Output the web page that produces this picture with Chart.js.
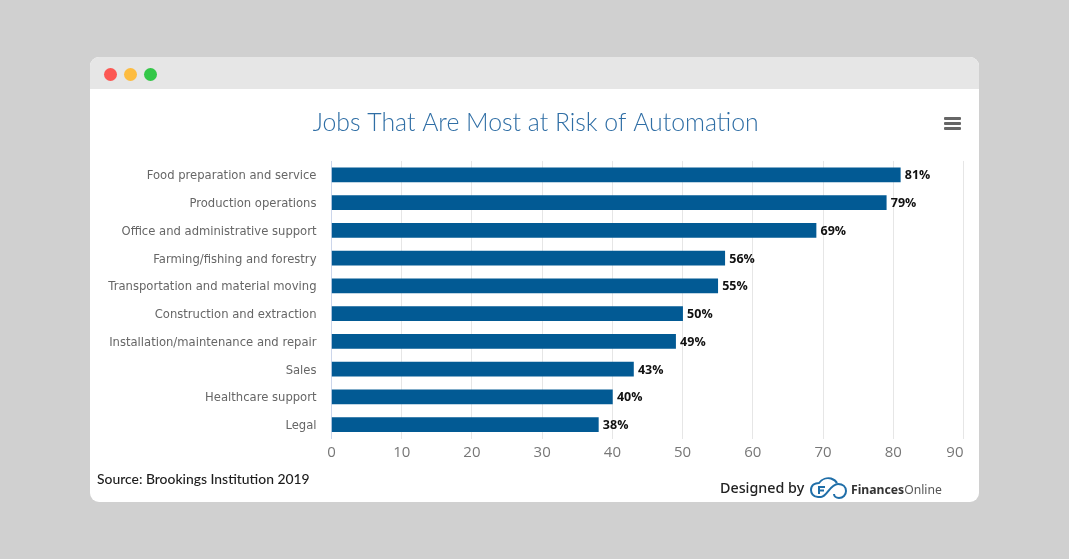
<!DOCTYPE html>
<html>
<head>
<meta charset="utf-8">
<title>Jobs That Are Most at Risk of Automation</title>
<script src="https://cdn.jsdelivr.net/npm/chart.js@4"></script>
<style>
    html, body { margin: 0; padding: 0; width: 1069px; height: 559px; overflow: hidden; background: #d0d0d0; }
    #card { position: absolute; left: 90px; top: 57px; width: 889px; height: 445px; background: #fff; border-radius: 9px; overflow: hidden; }
    #bar { position: absolute; left: 0; top: 0; width: 889px; height: 32px; background: #e6e6e6; }
    .dot { position: absolute; top: 10.5px; width: 13px; height: 13px; border-radius: 50%; }
    #chartBox { position: absolute; left: 0; top: 32px; width: 889px; height: 413px; }
    #menu { position: absolute; left: 854px; top: 60px; width: 17px; height: 13px; }
    #menu div { height: 3px; margin-bottom: 2px; background: #666; border-radius: 1px; }
    #source { position: absolute; left: 7px; top: 413px; font: 500 13.9px Lato, sans-serif; color: #1c1c1c; white-space: nowrap; }
    #designed { position: absolute; left: 630px; top: 421px; font: 500 14.3px "Noto Sans", sans-serif; color: #222; white-space: nowrap; }
    #logo { position: absolute; left: 720px; top: 420px; }
    #brand { position: absolute; left: 761px; top: 424px; font: 12.2px "Noto Sans", sans-serif; color: #555; white-space: nowrap; }
    #brand b { color: #333; }
</style>
</head>
<body>
<div id="card">
    <div id="bar">
        <div class="dot" style="left:13.5px;background:#fc5753"></div>
        <div class="dot" style="left:33.500px;background:#fdbc40"></div>
        <div class="dot" style="left:53.500px;background:#33c748"></div>
    </div>
    <div id="chartBox"><canvas id="riskChart"></canvas></div>
    <div id="menu"><div></div><div></div><div></div></div>
    <div id="source">Source: Brookings Institution 2019</div>
    <div id="designed">Designed by</div>
    <svg id="logo" width="38" height="24" viewBox="0 0 38 24" fill="none" stroke="#1f6ea8" stroke-width="2">
        <path d="M11 20 H8 C3 20 1 16 1 13 C1 8 5 6 9 6 C12 2 17 0.5 21 1.5 C24 2.500 26 4 27 6"/>
        <path d="M11 20 C17 20 20 7 28 7 C33 7 36 10 36 14 C36 18 33 21 29 21 C26 21 24 19 24 17"/>
        <path d="M9 17 V10 H15 M9 13.500 H14"/>
    </svg>
    <div id="brand"><b>Finances</b>Online</div>
</div>
<script>
const categories = [
    'Food preparation and service',
    'Production operations',
    'Office and administrative support',
    'Farming/fishing and forestry',
    'Transportation and material moving',
    'Construction and extraction',
    'Installation/maintenance and repair',
    'Sales',
    'Healthcare support',
    'Legal'
];
const riskValues = [81, 79, 69, 56, 55, 50, 49, 43, 40, 38];
const chartTitle = 'Jobs That Are Most at Risk of Automation';

// value labels at the end of each bar
const barLabels = {
    id: 'barLabels',
    afterDatasetsDraw(chart) {
        const ctx = chart.ctx;
        ctx.save();
        ctx.font = 'bold 12.5px "Open Sans"';
        ctx.fillStyle = '#111';
        ctx.textBaseline = 'middle';
        chart.getDatasetMeta(0).data.forEach((bar, i) => {
            ctx.fillText(riskValues[i] + '%', bar.x + 4.5, bar.y + 1);
        });
        ctx.restore();
    }
};

// last x label is pulled in so it ends on the plot edge, y labels sit a bit lower than the bars
const labelTweaks = {
    id: 'labelTweaks',
    beforeDraw(chart) {
        const xItems = chart.scales.x.getLabelItems(chart.chartArea);
        xItems[xItems.length - 1].options.textAlign = 'right';
        const yScale = chart.scales.y;
        yScale.getLabelItems(chart.chartArea).forEach((item, i) => {
            item.options.translation[1] = yScale.getPixelForTick(i) + 1.5;
        });
    }
};

new Chart(document.getElementById('riskChart'), {
    type: 'bar',
    data: {
        labels: categories,
        datasets: [{
            data: riskValues,
            backgroundColor: '#025a94',
            barThickness: 14
        }]
    },
    options: {
        indexAxis: 'y',
        responsive: true,
        maintainAspectRatio: false,
        animation: false,
        layout: { padding: { left: 18, right: 15.5 } },
        plugins: {
            legend: { display: false },
            tooltip: { enabled: false },
            title: {
                display: true,
                text: chartTitle,
                color: '#2f6ea5',
                font: { family: 'Lato', size: 24.8, weight: 300 },
                padding: { top: 18.7, bottom: 23.5 }
            }
        },
        scales: {
            x: {
                min: 0,
                max: 90,
                border: { display: false },
                grid: {
                    drawTicks: false,
                    color: c => c.tick && c.tick.value === 0 ? '#ccd6eb' : '#e6e6e6'
                },
                ticks: {
                    stepSize: 10,
                    padding: 5,
                    maxRotation: 0,
                    color: '#777',
                    font: { family: 'Open Sans', size: 15 }
                },
                afterFit: scale => { scale.height = 63.5; }
            },
            y: {
                border: { display: false },
                grid: { display: false, drawTicks: false },
                ticks: {
                    padding: 15,
                    autoSkip: false,
                    color: '#666',
                    font: { family: 'DejaVu Sans', size: 11.6 }
                },
                afterFit: scale => { scale.width = 223.5; }
            }
        }
    },
    plugins: [barLabels, labelTweaks]
});
</script>
</body>
</html>
